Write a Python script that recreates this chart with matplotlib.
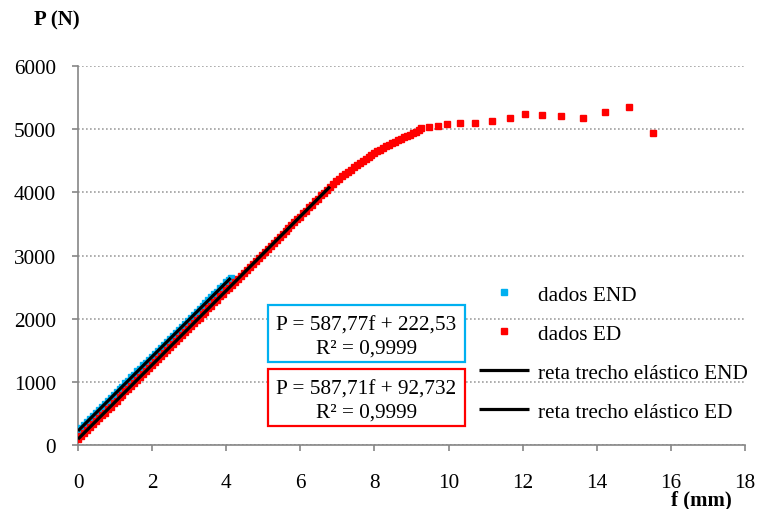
import matplotlib
matplotlib.use("Agg")
import matplotlib.pyplot as plt
from matplotlib.patches import Rectangle

plt.rcParams['font.family'] = ['Liberation Serif', 'DejaVu Serif']

# Load test: deflection f (mm) vs load P (N)
f_end = [0.00, 0.08, 0.16, 0.24, 0.32, 0.40, 0.48, 0.56, 0.64, 0.72, 0.80, 0.88,
         0.96, 1.04, 1.12, 1.20, 1.28, 1.36, 1.44, 1.52, 1.60, 1.68, 1.76, 1.84,
         1.92, 2.00, 2.08, 2.16, 2.24, 2.32, 2.40, 2.48, 2.56, 2.64, 2.72, 2.80,
         2.88, 2.96, 3.04, 3.12, 3.20, 3.28, 3.36, 3.44, 3.52, 3.60, 3.68, 3.76,
         3.84, 3.92, 4.00, 4.08, 4.14]
p_end = [226, 268, 319, 362, 413, 456, 507, 550, 601, 644, 695, 738,
         789, 832, 883, 926, 977, 1020, 1071, 1114, 1165, 1208, 1259, 1302,
         1353, 1396, 1447, 1490, 1541, 1584, 1635, 1678, 1729, 1772, 1823, 1866,
         1917, 1960, 2011, 2054, 2105, 2148, 2199, 2242, 2293, 2336, 2387, 2430,
         2481, 2524, 2575, 2618, 2650]

f_ed = [0.00, 0.08, 0.16, 0.24, 0.32, 0.40, 0.48, 0.56, 0.64, 0.72, 0.80, 0.88,
        0.96, 1.04, 1.12, 1.20, 1.28, 1.36, 1.44, 1.52, 1.60, 1.68, 1.76, 1.84,
        1.92, 2.00, 2.08, 2.16, 2.24, 2.32, 2.40, 2.48, 2.56, 2.64, 2.72, 2.80,
        2.88, 2.96, 3.04, 3.12, 3.20, 3.28, 3.36, 3.44, 3.52, 3.60, 3.68, 3.76,
        3.84, 3.92, 4.00, 4.08, 4.16, 4.24, 4.32, 4.40, 4.48, 4.56, 4.64, 4.72,
        4.80, 4.88, 4.96, 5.04, 5.12, 5.20, 5.28, 5.36, 5.44, 5.52, 5.60, 5.68,
        5.76, 5.84, 5.92, 6.00, 6.08, 6.16, 6.24, 6.32, 6.40, 6.48, 6.56, 6.64,
        6.72, 6.80, 6.88, 6.96, 7.04, 7.12, 7.20, 7.28, 7.36, 7.44, 7.52, 7.60,
        7.68, 7.76, 7.84, 7.92, 8.00, 8.08, 8.16, 8.24, 8.32, 8.40, 8.48, 8.56,
        8.64, 8.72, 8.80, 8.88, 8.96, 9.04, 9.12, 9.19, 9.26,
        9.47, 9.71, 9.96, 10.31, 10.71, 11.18, 11.66, 12.05, 12.51, 13.03,
        13.63, 14.23, 14.86, 15.51]
p_ed = [95, 138, 189, 232, 283, 326, 377, 420, 471, 514, 565, 608,
        659, 702, 753, 796, 847, 890, 941, 984, 1035, 1078, 1129, 1172,
        1223, 1266, 1317, 1360, 1411, 1454, 1505, 1548, 1599, 1642, 1693, 1736,
        1787, 1830, 1881, 1924, 1975, 2018, 2069, 2112, 2163, 2206, 2257, 2300,
        2351, 2395, 2446, 2489, 2540, 2583, 2634, 2677, 2728, 2771, 2822, 2865,
        2916, 2959, 3010, 3053, 3104, 3147, 3198, 3241, 3292, 3335, 3386, 3429,
        3480, 3523, 3574, 3617, 3668, 3711, 3762, 3805, 3856, 3899, 3950, 3993,
        4044, 4087, 4134, 4175, 4214, 4252, 4288, 4325, 4361, 4396, 4431, 4465,
        4498, 4530, 4561, 4592, 4622, 4650, 4678, 4705, 4731, 4756, 4780, 4803,
        4826, 4848, 4869, 4890, 4912, 4935, 4957, 4985, 5016,
        5037, 5058, 5079, 5095, 5105, 5132, 5184, 5247, 5226, 5216,
        5174, 5279, 5358, 4947]

# Linear fits of the elastic stretch (slope, intercept, fitted range)
fit_end = (587.77, 222.53, 0.0, 4.12)
fit_ed = (587.71, 92.732, 0.0, 6.80)

C_END = '#00B0F0'
C_ED = '#FF0000'
GRAY = '#868686'
FS = 15.3

fig = plt.figure(figsize=(7.59, 5.10), dpi=100)
ax = fig.add_axes([78 / 759, 1 - 446 / 510, (745 - 78) / 759, (446 - 67) / 510])

ax.plot(f_end, p_end, linestyle='none', marker='s', ms=3.8, mec=C_END, mfc=C_END,
        zorder=3, label='dados END')
ax.plot(f_ed, p_ed, linestyle='none', marker='s', ms=3.8, mec=C_ED, mfc=C_ED,
        zorder=3, label='dados ED')
for (a, b, x0, x1), lab in ((fit_end, 'reta trecho elástico END'),
                            (fit_ed, 'reta trecho elástico ED')):
    ax.plot([x0, x1], [a * x0 + b, a * x1 + b], color='black', lw=2.3,
            solid_capstyle='butt', zorder=4, label=lab)

ax.set_xlim(0, 18)
ax.set_ylim(0, 6000)
ax.set_xticks(range(0, 19, 2))
ax.set_yticks(range(0, 6001, 1000))
ax.yaxis.grid(True, color='#a0a0a0', linestyle=(0, (1.0, 1.4)), lw=1.2)
ax.set_axisbelow(True)
for s in ('top', 'right'):
    ax.spines[s].set_visible(False)
for s in ('left', 'bottom'):
    ax.spines[s].set_color(GRAY)
    ax.spines[s].set_linewidth(1.2)
ax.tick_params(axis='both', direction='out', length=4, width=1.2, color=GRAY,
               labelsize=FS, labelcolor='black')
ax.tick_params(axis='y', pad=12)
ax.tick_params(axis='x', pad=16)

# Axis titles
fig.text(57 / 759, 1 - 20 / 510, 'P (N)', ha='center', va='center',
         fontsize=15, fontweight='bold')
fig.text(701 / 759, 1 - 500 / 510, 'f (mm)', ha='center', va='center',
         fontsize=15, fontweight='bold')

# Equation boxes
def eq_box(y_top, y_bot, color, a, b):
    x0, x1 = 268, 465
    fig.patches.append(Rectangle((x0 / 759, 1 - y_bot / 510), (x1 - x0) / 759,
                                 (y_bot - y_top) / 510, transform=fig.transFigure,
                                 fill=True, facecolor='white', edgecolor=color,
                                 lw=1.6, zorder=5))
    xc = (x0 + x1) / 2 / 759
    bs = f'{b:g}'.replace('.', ',')
    fig.text(xc, 1 - (y_top + 20) / 510, f'P = {a:.2f}f + {bs}'.replace('.', ','),
             ha='center', va='center', fontsize=FS, zorder=6)
    fig.text(xc, 1 - (y_top + 43) / 510, 'R² = 0,9999',
             ha='center', va='center', fontsize=FS, zorder=6)

eq_box(306, 363, C_END, fit_end[0], fit_end[1])
eq_box(370, 427, C_ED, fit_ed[0], fit_ed[1])

leg = ax.legend(loc='upper left', bbox_to_anchor=(479 / 759, 1 - 286 / 510),
                bbox_transform=fig.transFigure, frameon=False, fontsize=FS,
                handlelength=2.35, handletextpad=0.42, labelspacing=0.90,
                numpoints=1, borderpad=0, borderaxespad=0, markerscale=1.0)

fig.savefig('out.png', dpi=100)
